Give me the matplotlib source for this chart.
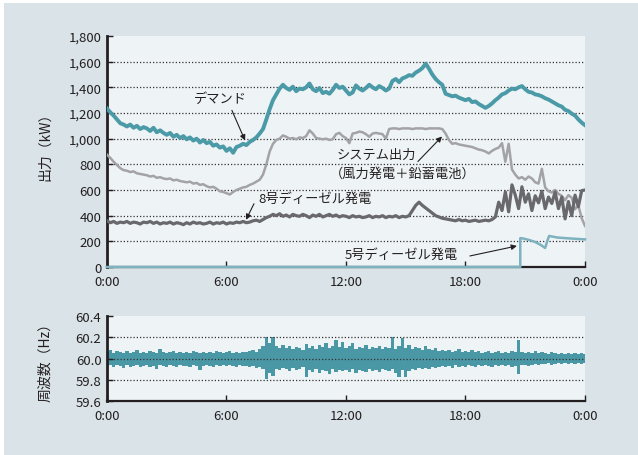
import numpy as np
import matplotlib
matplotlib.use('Agg')
import matplotlib.pyplot as plt
from matplotlib.patches import Rectangle

plt.rcParams['font.family'] = ['Noto Sans CJK JP', 'DejaVu Sans']

# 10-minute samples over one day, in hours
hours = np.arange(145) / 6

demand = [
    1235, 1205, 1180, 1150, 1120, 1110,
    1095, 1110, 1085, 1100, 1075, 1090,
    1080, 1060, 1085, 1050, 1065, 1045,
    1030, 1045, 1015, 1030, 1005, 1020,
    995, 1010, 985, 1000, 970, 990,
    965, 975, 945, 955, 930, 940,
    905, 925, 890, 935, 945, 960,
    950, 975, 990, 1010, 1040, 1075,
    1150, 1230, 1300, 1345, 1390, 1420,
    1395, 1380, 1405, 1370, 1390, 1385,
    1400, 1430, 1385, 1370, 1395, 1355,
    1365, 1350, 1380, 1420, 1395, 1405,
    1375, 1345, 1360, 1415, 1390, 1375,
    1395, 1420, 1400, 1385, 1410, 1395,
    1375, 1390, 1450, 1465, 1440, 1470,
    1480, 1495, 1490, 1515, 1530, 1550,
    1585, 1545, 1500, 1465, 1440, 1420,
    1350, 1340, 1330, 1335, 1320, 1310,
    1300, 1310, 1285, 1290, 1270, 1255,
    1240, 1255, 1275, 1300, 1320, 1345,
    1355, 1375, 1390, 1385, 1400, 1410,
    1385, 1365, 1360, 1345, 1340, 1330,
    1315, 1305, 1290, 1275, 1260, 1250,
    1225, 1215, 1195, 1180, 1150, 1125,
    1105,
]

system_out = [
    875, 850, 820, 795, 770, 755,
    750, 740, 745, 730, 725, 720,
    715, 705, 710, 695, 700, 690,
    685, 690, 675, 680, 670, 665,
    660, 665, 650, 655, 640, 645,
    630, 620, 625, 610, 590, 585,
    575, 565, 585, 600, 610, 620,
    625, 640, 650, 665, 680, 720,
    800, 900, 960, 990, 1000, 1025,
    1015, 1000, 1005, 995, 1010, 1005,
    1020, 1065, 1040, 1005, 1000, 995,
    1000, 990, 995, 1035, 1045, 1020,
    1005, 965, 1040, 1045, 1055, 1050,
    1035, 1015, 1040, 1045, 1040, 1035,
    1000, 1075, 1080, 1080, 1075, 1080,
    1080, 1080, 1075, 1080, 1080, 1080,
    1075, 1080, 1080, 1080, 1080, 1075,
    1040, 990, 960, 965, 955, 950,
    945, 940, 935, 925, 915, 910,
    900, 885, 905, 920, 930, 965,
    820, 960, 760, 720, 690, 700,
    680, 705, 690, 660, 650, 765,
    620, 590, 580, 600, 570, 555,
    520, 560, 540, 450, 480, 380,
    320,
]

diesel8 = [
    360, 345, 355, 340, 350, 345,
    355, 340, 350, 345, 335, 350,
    345, 355, 340, 350, 335, 345,
    340, 350, 335, 345, 340, 330,
    345, 335, 350, 340, 345, 335,
    340, 350, 335, 345, 340, 350,
    335, 345, 340, 350, 345, 355,
    345, 350, 360, 365, 355, 370,
    385, 395, 410, 400, 415, 395,
    405, 390, 410, 400, 395, 410,
    400, 385, 405, 395, 410, 390,
    400, 410, 395, 405, 390, 400,
    395, 385, 400, 390, 395, 385,
    390, 400, 385, 395, 390, 400,
    385, 395, 390, 400, 385, 395,
    390, 400, 440, 480, 505, 480,
    460, 440, 420, 400, 390, 380,
    375, 370, 365, 360, 370, 360,
    365, 355, 360, 365, 355, 360,
    365, 360, 370, 390, 505, 440,
    585, 430, 640, 560, 455, 625,
    505, 570, 440, 555, 500, 590,
    455, 545, 495, 585, 455, 545,
    375, 510, 400, 560, 470, 595,
    600,
]

diesel5_hours = [0, 20.75, 20.75, 20.9, 21.2, 21.5, 21.8, 22.0, 22.1, 22.2, 22.6, 23.0, 23.5, 24.0]
diesel5 = [0, 0, 225, 222, 210, 195, 170, 148, 200, 242, 230, 225, 220, 215]

freq_hi = [
    60.06, 60.08, 60.05, 60.07, 60.06, 60.05,
    60.07, 60.05, 60.06, 60.08, 60.05, 60.06,
    60.05, 60.07, 60.06, 60.05, 60.09, 60.06,
    60.05, 60.06, 60.07, 60.05, 60.06, 60.05,
    60.06, 60.05, 60.07, 60.06, 60.05, 60.06,
    60.05, 60.06, 60.05, 60.07, 60.06, 60.05,
    60.06, 60.07, 60.05, 60.06, 60.05, 60.06,
    60.06, 60.07, 60.08, 60.06, 60.09, 60.12,
    60.20, 60.15, 60.20, 60.12, 60.10, 60.13,
    60.10, 60.12, 60.09, 60.11, 60.10, 60.08,
    60.14, 60.10, 60.12, 60.09, 60.13, 60.11,
    60.15, 60.10, 60.12, 60.17, 60.11, 60.16,
    60.10, 60.12, 60.15, 60.09, 60.11, 60.10,
    60.13, 60.09, 60.11, 60.10, 60.12, 60.09,
    60.11, 60.10, 60.20, 60.09, 60.12, 60.19,
    60.10, 60.13, 60.09, 60.11, 60.10, 60.08,
    60.12, 60.09, 60.08, 60.10, 60.07, 60.08,
    60.07, 60.08, 60.06, 60.07, 60.09, 60.06,
    60.07, 60.06, 60.08, 60.06, 60.07, 60.05,
    60.06, 60.07, 60.05, 60.06, 60.07, 60.05,
    60.06, 60.05, 60.07, 60.06, 60.17, 60.06,
    60.05, 60.06, 60.05, 60.07, 60.05, 60.06,
    60.05, 60.04, 60.06, 60.05, 60.04, 60.05,
    60.04, 60.05, 60.04, 60.05, 60.04, 60.05,
    60.04,
]

freq_lo = [
    59.93, 59.94, 59.92, 59.94, 59.93, 59.91,
    59.94, 59.92, 59.93, 59.94, 59.92, 59.93,
    59.94, 59.92, 59.93, 59.90, 59.94, 59.93,
    59.92, 59.94, 59.93, 59.92, 59.94, 59.93,
    59.93, 59.92, 59.94, 59.93, 59.89, 59.93,
    59.94, 59.93, 59.92, 59.94, 59.93, 59.94,
    59.93, 59.94, 59.93, 59.92, 59.94, 59.93,
    59.93, 59.92, 59.93, 59.91, 59.92, 59.90,
    59.81, 59.86, 59.84, 59.90, 59.89, 59.91,
    59.90, 59.88, 59.91, 59.89, 59.90, 59.92,
    59.83, 59.89, 59.87, 59.90, 59.86, 59.89,
    59.88, 59.85, 59.90, 59.87, 59.89, 59.88,
    59.89, 59.87, 59.90, 59.86, 59.89, 59.88,
    59.87, 59.90, 59.88, 59.89, 59.87, 59.90,
    59.89, 59.88, 59.90, 59.86, 59.83, 59.89,
    59.83, 59.88, 59.90, 59.89, 59.91, 59.90,
    59.91, 59.90, 59.92, 59.91, 59.92, 59.93,
    59.92, 59.93, 59.91, 59.94, 59.92, 59.93,
    59.92, 59.94, 59.93, 59.92, 59.94, 59.93,
    59.94, 59.93, 59.92, 59.94, 59.93, 59.94,
    59.93, 59.94, 59.92, 59.93, 59.85, 59.94,
    59.94, 59.93, 59.94, 59.95, 59.94, 59.95,
    59.95, 59.96, 59.94, 59.95, 59.96, 59.95,
    59.96, 59.95, 59.96, 59.95, 59.96, 59.95,
    59.96,
]

time_ticks = [0, 6, 12, 18, 24]
time_labels = ['0:00', '6:00', '12:00', '18:00', '0:00']
power_ticks = [0, 200, 400, 600, 800, 1000, 1200, 1400, 1600, 1800]
power_labels = ['0', '200', '400', '600', '800', '1,000', '1,200', '1,400', '1,600', '1,800']
freq_ticks = [59.6, 59.8, 60.0, 60.2, 60.4]
freq_labels = ['59.6', '59.8', '60.0', '60.2', '60.4']

INK = '#231f20'
W, H = 638, 456

fig = plt.figure(figsize=(W / 100, H / 100), dpi=100)
fig.patch.set_facecolor('white')
fig.add_artist(Rectangle((4 / W, 0), 1, 1 - 4 / H, transform=fig.transFigure,
                         facecolor='#d9e3e8', edgecolor='none', zorder=0))

ax1 = fig.add_axes([107 / W, 188 / H, 478 / W, 231 / H])
ax2 = fig.add_axes([107 / W, 54 / H, 478 / W, 85 / H])


def style(ax, ylim, yticks, ylabels):
    ax.set_facecolor('#eef3f6')
    ax.set_xlim(0, 24)
    ax.set_ylim(*ylim)
    ax.spines['top'].set_visible(False)
    ax.spines['right'].set_visible(False)
    ax.spines['left'].set_linewidth(2)
    ax.spines['bottom'].set_linewidth(1.6)
    ax.spines['left'].set_color(INK)
    ax.spines['bottom'].set_color(INK)
    ax.set_xticks(time_ticks)
    ax.set_xticklabels(time_labels)
    ax.set_yticks(yticks)
    ax.set_yticklabels(ylabels)
    ax.tick_params(direction='in', length=4, width=1, labelsize=9.5, colors=INK)
    ax.tick_params(axis='x', pad=6)
    ax.tick_params(axis='y', pad=4)
    ax.yaxis.grid(True, linestyle=(0, (1, 1.6)), color='#333333', lw=0.9)
    lines = ax.get_ygridlines()
    lines[0].set_visible(False)
    lines[-1].set_visible(False)


style(ax1, (0, 1800), power_ticks, power_labels)
style(ax2, (59.6, 60.4), freq_ticks, freq_labels)
ax1.set_axisbelow(True)
ax2.set_axisbelow(False)

# power outputs
ax1.plot(hours, system_out, color='#a3a3a5', lw=1.8, zorder=3)
ax1.plot(hours, diesel8, color='#69696d', lw=2.3, zorder=4)
ax1.plot(hours, demand, color='#4a9aa7', lw=2.8, zorder=5)
ax1.plot(diesel5_hours, diesel5, color='#7db2be', lw=1.8, zorder=6, clip_on=False)

arrow = dict(arrowstyle='-|>', color=INK, lw=0.8, mutation_scale=8, shrinkA=0, shrinkB=0)
ax1.annotate('', xy=(6.93, 986), xytext=(6.27, 1221), arrowprops=arrow, zorder=7)
ax1.annotate('', xy=(16.82, 1017), xytext=(15.61, 822), arrowprops=arrow, zorder=7)
ax1.annotate('', xy=(6.98, 368), xytext=(7.38, 493), arrowprops=arrow, zorder=7)
ax1.annotate('', xy=(20.58, 164), xytext=(18.22, 86), arrowprops=arrow, zorder=7)

ax1.text(5.67, 1315, 'デマンド', ha='center', va='center', fontsize=9.5, color=INK)
ax1.text(11.55, 876, 'システム出力', ha='left', va='center', fontsize=9.5, color=INK)
ax1.text(11.2, 728, '（風力発電＋鉛蓄電池）', ha='left', va='center', fontsize=9.5, color=INK)
ax1.text(10.44, 532, '8号ディーゼル発電', ha='center', va='center', fontsize=9.5, color=INK)
ax1.text(14.76, 102, '5号ディーゼル発電', ha='center', va='center', fontsize=9.5, color=INK)

# frequency: range between the low and high of each 10-minute window,
# with the dotted grid left visible on top of it
ax2.fill_between(hours, freq_lo, freq_hi, step='mid', color='#4a97a5', lw=0, zorder=1.5)

fig.text(45 / W, 1 - 143 / H, '出力（kW）', rotation=90, ha='center', va='center',
         fontsize=10, color=INK)
fig.text(45 / W, 1 - 359 / H, '周波数（Hz）', rotation=90, ha='center', va='center',
         fontsize=10, color=INK)

fig.savefig('out.png', dpi=100)
